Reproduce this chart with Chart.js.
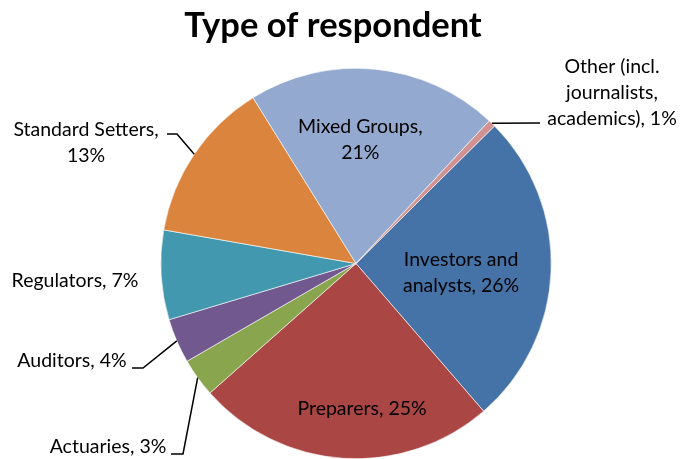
<!DOCTYPE html>
<html>
<head>
<meta charset="utf-8">
<script src="https://cdn.jsdelivr.net/npm/chart.js@4.4.1/dist/chart.umd.min.js"></script>
<style>
html,body{margin:0;padding:0;background:#fff;}
#wrap{width:680px;height:459px;position:relative;}
</style>
</head>
<body>
<div id="wrap"><canvas id="c" width="680" height="459"></canvas></div>
<script>
// ---- data ----
const TITLE = "Type of respondent";
const categories = [
  "Investors and analysts",
  "Preparers",
  "Actuaries",
  "Auditors",
  "Regulators",
  "Standard Setters",
  "Mixed Groups",
  "Other (incl. journalists, academics)"
];
const shares = [26.1, 24.8, 3.2, 3.7, 7.4, 13.4, 20.8, 0.6];
const colors = ["#4572A7","#AA4643","#89A54E","#71588F","#4198AF","#DB843D","#93A9CF","#D19392"];

// ---- label layout (style only) ----
const FONT = "Lato, 'Open Sans', sans-serif";
const LABEL_SIZE = 19.5;
const LINE_H = 26;
// inside labels: radial fraction + angle offset (deg) from slice mid-angle
// outside labels: text block center x, first baseline y, leader path (after arc edge point)
const labelLayout = [
  {mode:"in",  wrap:130, r:0.54, da:2.2},
  {mode:"in",  wrap:160, r:0.74, da:-6.2},
  {mode:"out", wrap:220, x:108, y:453, path:[[183,454],[171,454]]},
  {mode:"out", wrap:220, x:72,  y:367, path:[[143,368],[132,368]]},
  {mode:"out", wrap:220, x:75,  y:287, path:null},
  {mode:"out", wrap:165, x:86,  y:136, path:[[177,134],[167,134]]},
  {mode:"in",  wrap:140, r:0.637, da:-3.6},
  {mode:"out", wrap:145, x:612, y:73,  path:[[540,123]]}
];

const total = shares.reduce((a,b)=>a+b,0);

function wrapText(ctx, text, maxW){
  const words = text.split(" ");
  const lines = [];
  let cur = "";
  for (const w of words){
    const t = cur ? cur + " " + w : w;
    if (cur && ctx.measureText(t).width > maxW){ lines.push(cur); cur = w; }
    else cur = t;
  }
  if (cur) lines.push(cur);
  return lines;
}

const labelPlugin = {
  id: "labelPlugin",
  afterDraw(chart){
    const ctx = chart.ctx;
    // title
    ctx.save();
    ctx.fillStyle = "#000";
    ctx.font = "bold 34.5px " + FONT;
    ctx.textAlign = "center";
    ctx.textBaseline = "alphabetic";
    ctx.fillText(TITLE, 333, 37);
    ctx.restore();

    const meta = chart.getDatasetMeta(0);
    ctx.save();
    ctx.font = LABEL_SIZE + "px " + FONT;
    ctx.fillStyle = "#000";
    ctx.textAlign = "center";
    ctx.textBaseline = "alphabetic";
    meta.data.forEach((arc, i) => {
      const p = arc.getProps(["x","y","startAngle","endAngle","outerRadius"], true);
      const mid = (p.startAngle + p.endAngle) / 2;
      const pct = Math.round(shares[i] / total * 100);
      const text = categories[i] + ", " + pct + "%";
      const L = labelLayout[i];
      const lines = wrapText(ctx, text, L.wrap);
      if (L.mode === "in"){
        const a = mid + L.da * Math.PI / 180;
        const cx = p.x + Math.cos(a) * p.outerRadius * L.r;
        const cy = p.y + Math.sin(a) * p.outerRadius * L.r;
        const capMid = LABEL_SIZE * 0.36;
        const y0 = cy - (lines.length - 1) * LINE_H / 2 + capMid;
        lines.forEach((ln, k) => ctx.fillText(ln, cx, y0 + k * LINE_H));
      } else {
        lines.forEach((ln, k) => ctx.fillText(ln, L.x, L.y + k * LINE_H));
        if (L.path){
          const ex = p.x + Math.cos(mid) * p.outerRadius;
          const ey = p.y + Math.sin(mid) * p.outerRadius;
          ctx.beginPath();
          ctx.moveTo(ex, ey);
          L.path.forEach(pt => ctx.lineTo(pt[0], pt[1]));
          ctx.strokeStyle = "#000";
          ctx.lineWidth = 1.5;
          ctx.stroke();
        }
      }
    });
    ctx.restore();
  }
};

new Chart(document.getElementById("c"), {
  type: "pie",
  data: {
    labels: categories,
    datasets: [{
      data: shares,
      backgroundColor: colors,
      borderColor: "#ffffff",
      borderWidth: 0.6
    }]
  },
  options: {
    responsive: false,
    animation: false,
    rotation: 45.2,
    layout: { padding: { left: 160, right: 128, top: 68, bottom: 0 } },
    plugins: {
      legend: { display: false },
      tooltip: { enabled: false },
      title: { display: false }
    }
  },
  plugins: [labelPlugin]
});
</script>
</body>
</html>
